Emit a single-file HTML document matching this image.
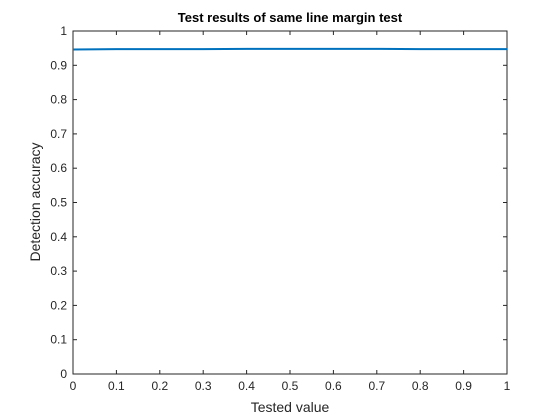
<!DOCTYPE html>
<html><head><meta charset="utf-8"><style>
body{margin:0;background:#fff;}
svg{display:block;font-family:"Liberation Sans",sans-serif;}
</style></head><body>
<svg id="chart" width="560" height="420">
<rect x="0" y="0" width="560" height="420" fill="#fff"/>
<rect x="73" y="31" width="434" height="343" fill="#fff" stroke="#262626" stroke-width="1"/>
<g id="ticks"></g>
<path id="series" fill="none" stroke="#0072bd" stroke-width="2"/>
<text x="290" y="22" text-anchor="middle" font-size="13" font-weight="bold" fill="#000">Test results of same line margin test</text>
<text x="290" y="412" text-anchor="middle" font-size="14" fill="#262626">Tested value</text>
<text transform="translate(40,202) rotate(-90)" text-anchor="middle" font-size="14" fill="#262626">Detection accuracy</text>
</svg>
<script>
const xValues=[0,0.1,0.2,0.3,0.4,0.5,0.6,0.7,0.8,0.9,1];
const accuracy=[0.946,0.947,0.947,0.947,0.948,0.948,0.948,0.948,0.947,0.947,0.947];
const xTicks=["0","0.1","0.2","0.3","0.4","0.5","0.6","0.7","0.8","0.9","1"];
const yTicks=["0","0.1","0.2","0.3","0.4","0.5","0.6","0.7","0.8","0.9","1"];
const L=73,R=507,T=31,B=374;
const xs=v=>L+(R-L)*v, ys=v=>B-(B-T)*v;
const ns="http://www.w3.org/2000/svg";
const g=document.getElementById('ticks');
function mk(tag,attrs,parent){const e=document.createElementNS(ns,tag);for(const k in attrs)e.setAttribute(k,attrs[k]);parent.appendChild(e);return e;}
xTicks.forEach(t=>{const v=parseFloat(t),x=xs(v);
mk('line',{x1:x,x2:x,y1:B,y2:B-4,stroke:'#262626'},g);
mk('line',{x1:x,x2:x,y1:T,y2:T+4,stroke:'#262626'},g);
const tx=mk('text',{x:x,y:B+16,'text-anchor':'middle','font-size':12,fill:'#262626'},g);


tx.textContent=t;});
yTicks.forEach(t=>{const v=parseFloat(t),y=ys(v);
mk('line',{x1:L,x2:L+4,y1:y,y2:y,stroke:'#262626'},g);
mk('line',{x1:R,x2:R-4,y1:y,y2:y,stroke:'#262626'},g);
const tx=mk('text',{x:L-6,y:y+4,'text-anchor':'end','font-size':12,fill:'#262626'},g);


tx.textContent=t;});
document.getElementById('series').setAttribute('d',xValues.map((v,i)=>(i?'L':'M')+xs(v)+','+ys(accuracy[i])).join(' '));
</script>
</body></html>
